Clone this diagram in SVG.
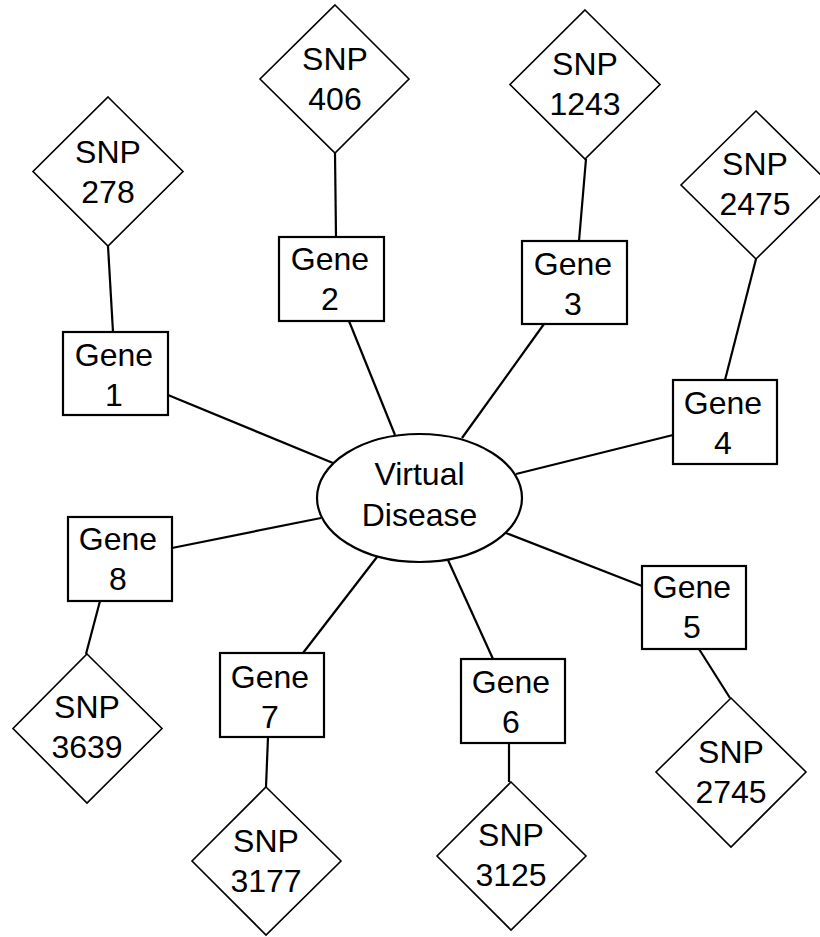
<svg xmlns="http://www.w3.org/2000/svg" width="820" height="937" viewBox="0 0 820 937">
<style>
.bg{fill:#fff}
.gene{fill:#fff;stroke:#000;stroke-width:2.2}
.snp{fill:#fff;stroke:#000;stroke-width:1.6}
.dis{fill:#fff;stroke:#000;stroke-width:2.2}
.edge{stroke:#000;stroke-width:2.2;fill:none}
text{font-family:"Liberation Sans",Arial,sans-serif;font-size:32px;fill:#000;text-anchor:middle}
</style>
<rect class="bg" x="0" y="0" width="820" height="937"/>
<g id="connectors">
<line class="edge" x1="108" y1="246" x2="113" y2="332"/>
<line class="edge" x1="335" y1="153" x2="336" y2="237"/>
<line class="edge" x1="586" y1="159" x2="579" y2="241"/>
<line class="edge" x1="756" y1="259" x2="725" y2="380"/>
<line class="edge" x1="699" y1="649" x2="730" y2="698"/>
<line class="edge" x1="509" y1="743" x2="509" y2="782"/>
<line class="edge" x1="268" y1="737" x2="266" y2="787"/>
<line class="edge" x1="100" y1="601" x2="86" y2="654"/>
<line class="edge" x1="168" y1="395" x2="333" y2="463"/>
<line class="edge" x1="349" y1="321" x2="395" y2="435"/>
<line class="edge" x1="544" y1="324" x2="462" y2="438"/>
<line class="edge" x1="673" y1="435" x2="516" y2="474"/>
<line class="edge" x1="506" y1="533" x2="642" y2="586"/>
<line class="edge" x1="448" y1="560" x2="493" y2="659"/>
<line class="edge" x1="377" y1="557" x2="303" y2="653"/>
<line class="edge" x1="172" y1="548" x2="321" y2="518"/>
</g>
<g id="disease">
<ellipse class="dis" cx="419.5" cy="498" rx="102.5" ry="64"/>
<text x="419.5" y="485">Virtual</text>
<text x="419.5" y="526">Disease</text>
</g>
<g id="gene1"><rect class="gene" x="63" y="332" width="105" height="83"/><text x="114" y="366">Gene</text><text x="114" y="406">1</text></g>
<g id="gene2"><rect class="gene" x="279" y="237" width="105" height="84"/><text x="330" y="270">Gene</text><text x="330" y="310">2</text></g>
<g id="gene3"><rect class="gene" x="522" y="241" width="105" height="83"/><text x="573" y="275">Gene</text><text x="573" y="315">3</text></g>
<g id="gene4"><rect class="gene" x="673" y="380" width="104" height="84"/><text x="723" y="414">Gene</text><text x="723" y="454">4</text></g>
<g id="gene5"><rect class="gene" x="642" y="566" width="104" height="83"/><text x="692" y="598">Gene</text><text x="692" y="638">5</text></g>
<g id="gene6"><rect class="gene" x="461" y="659" width="104" height="84"/><text x="511" y="693">Gene</text><text x="511" y="733">6</text></g>
<g id="gene7"><rect class="gene" x="220" y="653" width="104" height="84"/><text x="270" y="688">Gene</text><text x="270" y="728">7</text></g>
<g id="gene8"><rect class="gene" x="68" y="517" width="104" height="84"/><text x="118" y="550">Gene</text><text x="118" y="590">8</text></g>
<g id="snp278"><polygon class="snp" points="108,97 183,171.5 108,246 33,171.5"/><text x="108" y="163">SNP</text><text x="108" y="203">278</text></g>
<g id="snp406"><polygon class="snp" points="335,5 409,79 335,153 260,79"/><text x="335" y="70">SNP</text><text x="335" y="110">406</text></g>
<g id="snp1243"><polygon class="snp" points="585,10 660,84.5 585,159 510,84.5"/><text x="585" y="75">SNP</text><text x="585" y="115">1243</text></g>
<g id="snp2475"><polygon class="snp" points="756,111 831,185 756,259 681,185"/><text x="755" y="175">SNP</text><text x="755" y="215">2475</text></g>
<g id="snp2745"><polygon class="snp" points="731,698 806,772 731,847 656,772"/><text x="731" y="763">SNP</text><text x="731" y="803">2745</text></g>
<g id="snp3125"><polygon class="snp" points="511,782 586,856 511,930 437,856"/><text x="511" y="846">SNP</text><text x="511" y="886">3125</text></g>
<g id="snp3177"><polygon class="snp" points="266,787 341,861 266,935 192,861"/><text x="266" y="852">SNP</text><text x="266" y="892">3177</text></g>
<g id="snp3639"><polygon class="snp" points="87,654 162,728.5 87,803 13,728.5"/><text x="87" y="718">SNP</text><text x="87" y="758">3639</text></g>
</svg>
